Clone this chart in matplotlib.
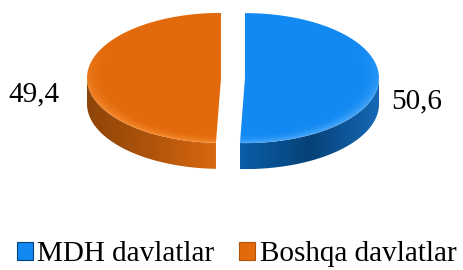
import numpy as np
import matplotlib.pyplot as plt
from matplotlib.patches import Polygon, Patch
from matplotlib.colors import LinearSegmentedColormap

categories = ["MDH davlatlar", "Boshqa davlatlar"]
values = [50.6, 49.4]
labels = ["50,6", "49,4"]
top_colors = ["#1289f2", "#e26a0c"]
top_light = ["#46a6fa", "#f58a2c"]
side_colors = [["#0b5ea8", "#064278", "#1669b8"], ["#d8680f", "#b0540b", "#8e4408"]]
label_pos = [(417, 101), (34, 94)]

W, H = 463, 270
fig = plt.figure(figsize=(4.63, 2.70), dpi=100)
ax = fig.add_axes([0, 0, 1, 1])
ax.set_xlim(0, W)
ax.set_ylim(H, 0)
ax.axis('off')

cx, cy, a, b, depth, explode = 233, 78, 134, 65, 26, 12
total = sum(values)
start = 90.0


def pt(t, ox, oy, dz=0.0):
    r = np.deg2rad(t)
    return cx + ox + a * np.cos(r), cy + oy - b * np.sin(r) + dz


tops = []
walls = []
t0 = start
for i, v in enumerate(values):
    t1 = t0 - 360.0 * v / total
    mid = np.deg2rad((t0 + t1) / 2)
    ox = explode * np.cos(mid)
    oy = -explode * np.sin(mid) * b / a
    th = np.linspace(t0, t1, 300)
    xs, ys = pt(th, ox, oy)
    top = np.vstack([[cx + ox, cy + oy], np.column_stack([xs, ys])])
    tops.append((i, top, ox, oy))
    for shift in (-360, 0, 360):
        lo = max(t1, -180 + shift)
        hi = min(t0, 0 + shift)
        if hi > lo:
            tw = np.linspace(hi, lo, 200)
            x1, y1 = pt(tw, ox, oy)
            x2, y2 = pt(tw[::-1], ox, oy, depth)
            poly = np.vstack([np.column_stack([x1, y1]), np.column_stack([x2, y2])])
            walls.append((i, poly))
    t0 = t1

for i, poly in walls:
    patch = Polygon(poly, closed=True, facecolor='none', edgecolor='none')
    ax.add_patch(patch)
    xmin, xmax = poly[:, 0].min(), poly[:, 0].max()
    ymin, ymax = poly[:, 1].min(), poly[:, 1].max()
    cmap = LinearSegmentedColormap.from_list('w%d' % i, side_colors[i])
    grad = np.linspace(0, 1, 256)[None, :]
    if i == 1:
        grad = grad[:, ::-1]
    im = ax.imshow(grad, cmap=cmap, extent=[xmin, xmax, ymax, ymin],
                   aspect='auto', zorder=1, interpolation='bilinear')
    im.set_clip_path(patch)

for i, top, ox, oy in tops:
    patch = Polygon(top, closed=True, facecolor='none', edgecolor='none')
    ax.add_patch(patch)
    gx = np.linspace(cx + ox - a, cx + ox + a, 300)
    gy = np.linspace(cy + oy - b, cy + oy + b, 150)
    X, Y = np.meshgrid(gx, gy)
    R = np.sqrt(((X - cx - ox) / a) ** 2 + ((Y - cy - oy) / b) ** 2)
    shade = np.clip((R - 0.86) / 0.14, 0, 1) ** 2
    shade = shade * np.clip((Y - cy - oy) / b + 0.5, 0, 1)
    cmap = LinearSegmentedColormap.from_list('t%d' % i, [top_colors[i], top_light[i]])
    im = ax.imshow(shade, cmap=cmap, vmin=0, vmax=1,
                   extent=[gx[0], gx[-1], gy[-1], gy[0]],
                   aspect='auto', zorder=2, interpolation='bilinear')
    im.set_clip_path(patch)

for (x, y), lab in zip(label_pos, labels):
    ax.text(x, y, lab, ha='center', va='center', fontsize=21,
            family='Liberation Serif', color='black', zorder=5)

handles = [Patch(facecolor=top_colors[i], edgecolor=side_colors[i][1], linewidth=0.8)
           for i in range(len(categories))]
fig.legend(handles, categories, loc='lower center', bbox_to_anchor=(0.511, -0.055),
           ncol=2, frameon=False,
           prop={'family': 'Liberation Serif', 'size': 21},
           handlelength=0.55, handleheight=0.55, handletextpad=0.15,
           columnspacing=0.85, borderaxespad=0.2)

fig.savefig('out.png', dpi=100)
